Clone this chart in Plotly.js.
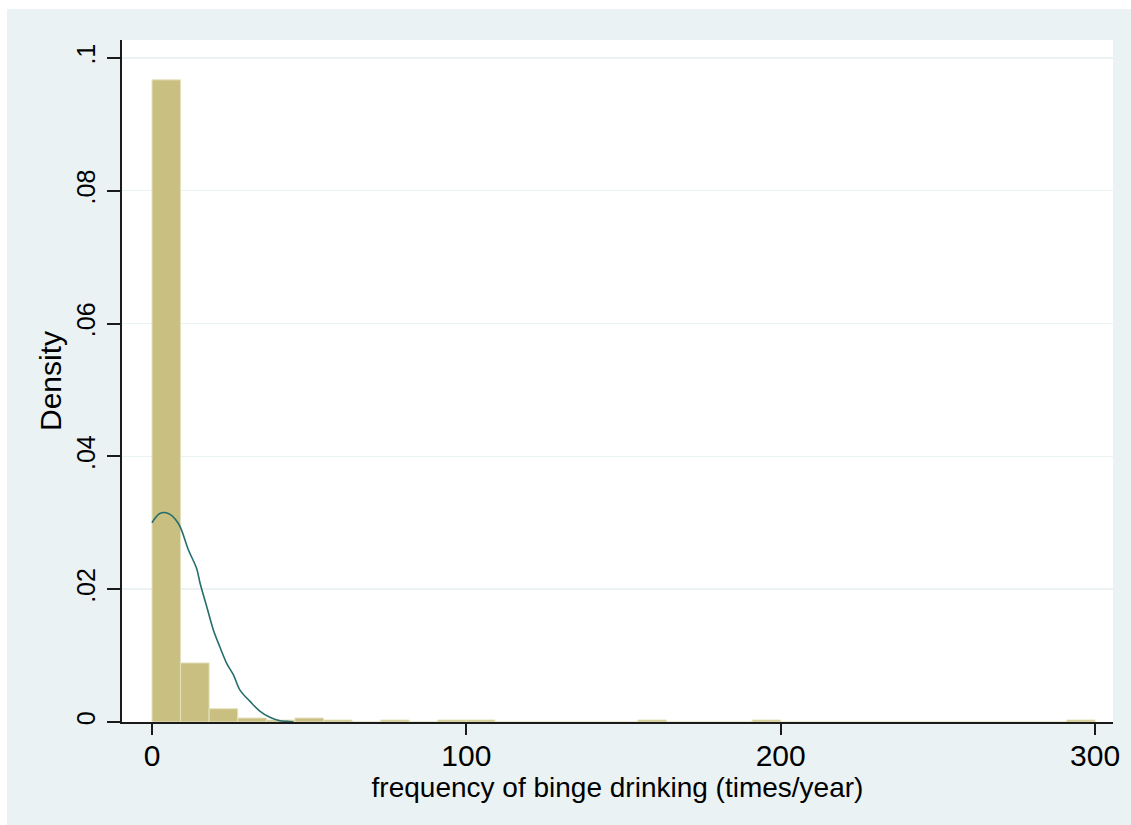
<!DOCTYPE html>
<html>
<head>
<meta charset="utf-8">
<script src="https://cdn.plot.ly/plotly-3.0.1.min.js"></script>
<style>
  html, body { margin: 0; padding: 0; background: #ffffff; }
  #chart { position: absolute; left: 7px; top: 9px; width: 1124px; height: 816px; }
</style>
</head>
<body>
<div id="chart"></div>
<script>
// Histogram of binge-drinking frequency: 33 equal bins over 0-300 times/year
const binStart = 0;
const binWidth = 300 / 33;
const binDensity = [
  0.0967, 0.0089, 0.0020, 0.0006, 0.0003, 0.0006, 0.0003, 0, 0.0003, 0,
  0.0003, 0.0003, 0, 0, 0, 0, 0, 0.0003, 0, 0,
  0, 0.0003, 0, 0, 0, 0, 0, 0, 0, 0,
  0, 0, 0.0003
];

// Kernel density estimate overlaid on the histogram
const kdeX = [0, 2.5, 5.2, 8.4, 11.6, 14.2, 15.3, 17.4, 19.5, 21.6, 23.8, 25.9, 28.0, 31.2, 34.4, 37.5, 40.7, 42.8, 45];
const kdeY = [0.0300, 0.0314, 0.0314, 0.0299, 0.0259, 0.0231, 0.0209, 0.0174, 0.0139, 0.0113, 0.0088, 0.0071, 0.0048, 0.0031, 0.0016, 0.0007, 0.0002, 0.0001, 0];

// Axis ticks
const xTickVals = [0, 100, 200, 300];
const xTickText = ['0', '100', '200', '300'];
const yTickVals = [0, 0.02, 0.04, 0.06, 0.08, 0.1];
const yTickText = ['0', '.02', '.04', '.06', '.08', '.1'];

const binCenters = binDensity.map((_, i) => binStart + (i + 0.5) * binWidth);

const bg = 'rgb(234,242,243)';
const fontFamily = '"Liberation Sans", Arial, sans-serif';

const traces = [
  {
    type: 'bar',
    x: binCenters,
    y: binDensity,
    width: binWidth,
    marker: {
      color: 'rgb(200,191,128)',
      line: { color: 'rgb(230,226,192)', width: 1 }
    },
    hoverinfo: 'x+y',
    showlegend: false
  },
  {
    type: 'scatter',
    mode: 'lines',
    x: kdeX,
    y: kdeY,
    line: { color: 'rgb(38,110,108)', width: 1.6, shape: 'spline' },
    showlegend: false
  }
];

const layout = {
  width: 1124,
  height: 816,
  margin: { l: 115, r: 18, t: 31, b: 103 },
  paper_bgcolor: bg,
  plot_bgcolor: '#ffffff',
  font: { family: fontFamily, color: '#000000' },
  bargap: 0,
  showlegend: false,
  xaxis: {
    range: [-9.54, 305.7],
    tickmode: 'array',
    tickvals: xTickVals,
    ticktext: xTickText,
    ticks: 'outside',
    ticklen: 11,
    tickwidth: 2,
    tickcolor: '#1a1a1a',
    tickfont: { size: 30, family: fontFamily, color: '#000000' },
    ticklabelstandoff: -5,
    showline: true,
    linecolor: '#1a1a1a',
    linewidth: 2,
    showgrid: false,
    zeroline: false,
    title: {
      text: 'frequency of binge drinking (times/year)',
      font: { size: 28, family: fontFamily, color: '#000000' },
      standoff: 0
    }
  },
  yaxis: {
    range: [0, 0.1027],
    tickmode: 'array',
    tickvals: yTickVals,
    ticktext: yTickText,
    tickangle: -90,
    ticks: 'outside',
    ticklen: 13,
    tickwidth: 2,
    tickcolor: '#1a1a1a',
    tickfont: { size: 25, family: fontFamily, color: '#000000' },
    ticklabelstandoff: 2,
    showline: true,
    linecolor: '#1a1a1a',
    linewidth: 2,
    showgrid: true,
    gridcolor: bg,
    gridwidth: 1.5,
    zeroline: false,
    title: {
      text: 'Density',
      font: { size: 30, family: fontFamily, color: '#000000' },
      standoff: 2
    }
  }
};

Plotly.newPlot('chart', traces, layout, { displayModeBar: false, staticPlot: true });
</script>
</body>
</html>
